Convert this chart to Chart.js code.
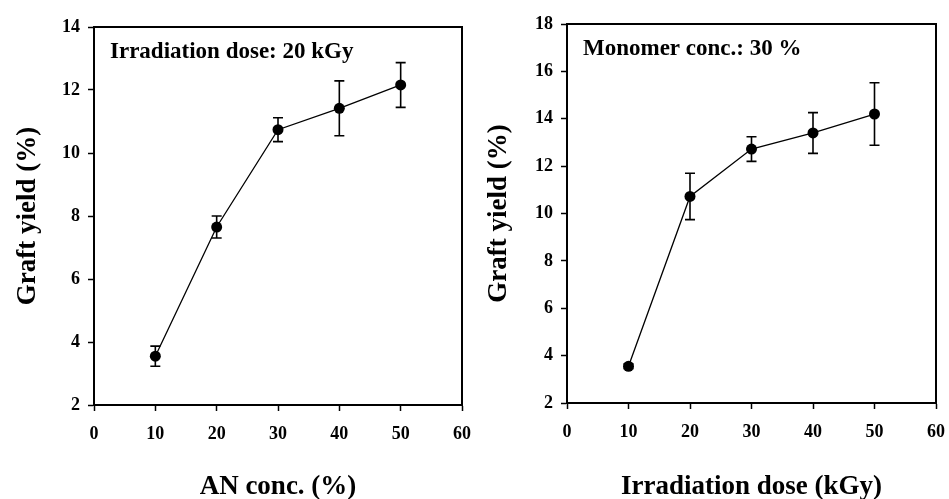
<!DOCTYPE html>
<html>
<head>
    <title>Graft yield</title>
    <script src="https://cdn.jsdelivr.net/npm/chart.js@4.4.0/dist/chart.umd.min.js"></script>
    <style>
        body { margin: 0; background: #fff; }
        .panel { position: absolute; top: 0; }
    </style>
</head>
<body>
    <div class="panel" style="left:0px"><canvas id="leftChart" width="475" height="499"></canvas></div>
    <div class="panel" style="left:475px"><canvas id="rightChart" width="474" height="499"></canvas></div>

    <script>
        // left panel: AN concentration
        var anConc = [10, 20, 30, 40, 50];
        var anYield = [3.55, 7.65, 10.74, 11.42, 12.16];
        var anErr = [0.32, 0.35, 0.38, 0.87, 0.71];
        var anYTicks = [2, 4, 6, 8, 10, 12, 14];

        // right panel: irradiation dose
        var dose = [10, 20, 30, 40, 50];
        var doseYield = [3.55, 10.72, 12.72, 13.4, 14.2];
        var doseErr = [0.1, 0.98, 0.52, 0.86, 1.32];
        var doseYTicks = [2, 4, 6, 8, 10, 12, 14, 16, 18];

        var xTicks = [0, 10, 20, 30, 40, 50, 60];

        var serif = "'Liberation Serif', 'Times New Roman', serif";

        // draws error bars and the box around the plot area
        var extrasPlugin = {
            id: 'extras',
            afterDatasetsDraw: function(chart, args, opts) {
                var ctx = chart.ctx;
                var yScale = chart.scales.y;
                var meta = chart.getDatasetMeta(0);
                var errs = opts.errors || [];
                var vals = chart.data.datasets[0].data;
                ctx.save();
                ctx.strokeStyle = '#000';
                ctx.lineWidth = 1.6;
                meta.data.forEach(function(pt, i) {
                    var yTop = yScale.getPixelForValue(vals[i].y + errs[i]);
                    var yBot = yScale.getPixelForValue(vals[i].y - errs[i]);
                    ctx.beginPath();
                    ctx.moveTo(pt.x, yTop); ctx.lineTo(pt.x, yBot);
                    ctx.moveTo(pt.x - 5, yTop); ctx.lineTo(pt.x + 5, yTop);
                    ctx.moveTo(pt.x - 5, yBot); ctx.lineTo(pt.x + 5, yBot);
                    ctx.stroke();
                });
                var a = chart.chartArea;
                ctx.lineWidth = 2;
                ctx.strokeRect(a.left, a.top, a.right - a.left, a.bottom - a.top);
                // note inside the plot
                ctx.fillStyle = '#000';
                ctx.font = 'bold 23px ' + serif;
                ctx.textBaseline = 'middle';
                ctx.fillText(opts.note, a.left + opts.noteDx, a.top + opts.noteDy);
                ctx.restore();
            }
        };

        function makeChart(id, xs, ys, errs, yTicks, xTitle, note, cfg) {
            var pts = xs.map(function(x, i) { return {x: x, y: ys[i]}; });
            return new Chart(document.getElementById(id), {
                type: 'line',
                data: {
                    datasets: [{
                        data: pts,
                        borderColor: '#000',
                        borderWidth: 1.3,
                        backgroundColor: '#000',
                        pointRadius: 5.5,
                        pointBackgroundColor: '#000',
                        pointBorderWidth: 0,
                        tension: 0
                    }]
                },
                options: {
                    responsive: false,
                    devicePixelRatio: 1,
                    animation: false,
                    layout: { padding: { left: 0, top: cfg.top, right: cfg.right, bottom: 0 } },
                    plugins: {
                        legend: { display: false },
                        tooltip: { enabled: false },
                        extras: { errors: errs, note: note, noteDx: 16, noteDy: 25 }
                    },
                    scales: {
                        x: {
                            type: 'linear',
                            min: 0, max: 60,
                            afterBuildTicks: function(s) { s.ticks = xTicks.map(function(v) { return {value: v}; }); },
                            afterFit: function(s) { s.height = cfg.xh; s.paddingLeft = 0; s.paddingRight = 0; },
                            grid: { drawOnChartArea: false, drawTicks: true, tickLength: 6, color: '#000', tickWidth: 1.5 },
                            border: { display: true, color: '#000', width: 2 },
                            ticks: { color: '#000', padding: 13, maxRotation: 0, font: { family: serif, size: 18, weight: 'bold' } },
                            title: { display: true, text: xTitle, color: '#000', padding: { top: 0, bottom: -4 },
                                     font: { family: serif, size: 27, weight: 'bold' } }
                        },
                        y: {
                            min: yTicks[0], max: yTicks[yTicks.length - 1],
                            afterBuildTicks: function(s) { s.ticks = yTicks.map(function(v) { return {value: v}; }); },
                            afterFit: function(s) { s.width = cfg.yw; s.paddingTop = 0; s.paddingBottom = 0; },
                            grid: { drawOnChartArea: false, drawTicks: true, tickLength: 6, color: '#000', tickWidth: 1.5 },
                            border: { display: true, color: '#000', width: 2 },
                            ticks: { color: '#000', padding: 8, font: { family: serif, size: 18, weight: 'bold' } },
                            title: { display: true, text: 'Graft yield (%)', color: '#000', padding: { top: cfg.titlePad, bottom: 0 },
                                     font: { family: serif, size: 27, weight: 'bold' } }
                        }
                    }
                },
                plugins: [extrasPlugin]
            });
        }

        makeChart('leftChart', anConc, anYield, anErr, anYTicks, 'AN conc. (%)', 'Irradiation dose: 20 kGy',
                  { top: 27, right: 13, xh: 94, yw: 94, titlePad: 12 });
        makeChart('rightChart', dose, doseYield, doseErr, doseYTicks, 'Irradiation dose (kGy)', 'Monomer conc.: 30 %',
                  { top: 24, right: 13, xh: 96, yw: 92, titlePad: 8 });
    </script>
</body>
</html>
